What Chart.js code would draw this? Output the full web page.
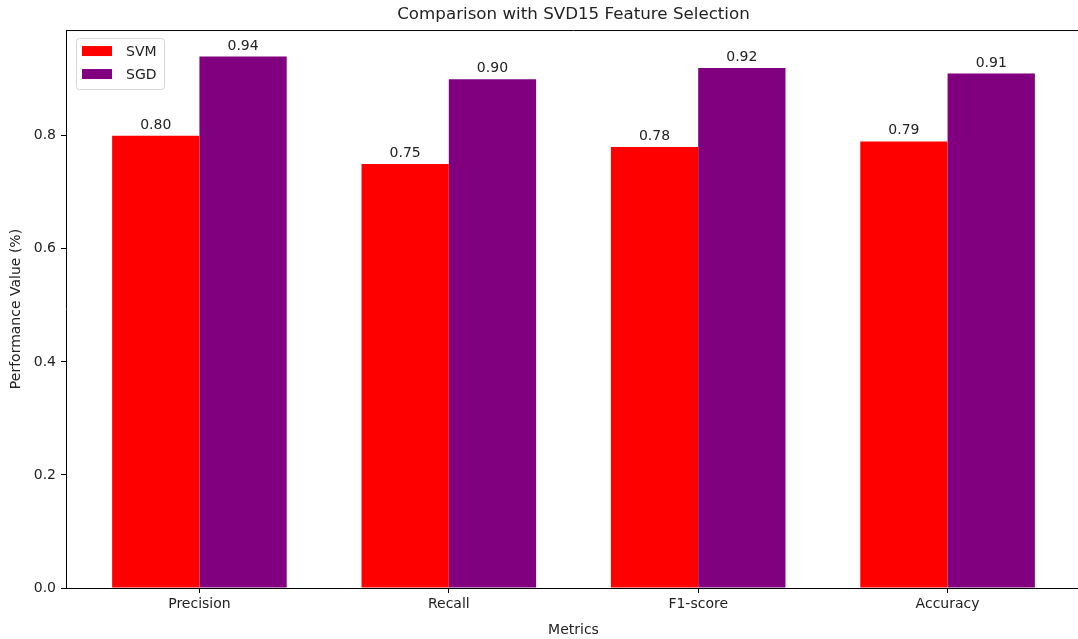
<!DOCTYPE html>
<html>
<head>
<meta charset="utf-8">
<script src="https://cdn.jsdelivr.net/npm/chart.js@4.4.0/dist/chart.umd.min.js"></script>
<style>
  html, body { margin: 0; padding: 0; background: #fff; overflow: hidden; width: 1078px; height: 639px; }
  #wrap { width: 1078px; height: 639px; overflow: hidden; position: relative; }
  #chart { position: absolute; left: 0; top: 0; }
</style>
</head>
<body>
<div id="wrap"><canvas id="chart" width="1100" height="639"></canvas></div>
<script>
const categories = ['Precision', 'Recall', 'F1-score', 'Accuracy']
const svmValues = [0.80, 0.75, 0.78, 0.79]
const sgdValues = [0.94, 0.90, 0.92, 0.91]
const yTicks = [0.0, 0.2, 0.4, 0.6, 0.8]
const seriesNames = ['SVM', 'SGD']
const seriesColors = ['#ff0000', '#800080']

const FONT = 'DejaVu Sans'
const TXT = '#222'

// turn arrays into {x,y} points so the x axis can be linear like matplotlib
const toPoints = vals => vals.map((v, i) => ({ x: i, y: v }))

// top spine (the right one falls outside the picture)
const spines = {
    id: 'spines',
    afterDraw(chart) {
        const { ctx, chartArea: a } = chart
        ctx.save()
        ctx.strokeStyle = '#000'
        ctx.lineWidth = 1
        ctx.beginPath()
        ctx.moveTo(a.left, a.top + 0.5)
        ctx.lineTo(a.right, a.top + 0.5)
        ctx.stroke()
        ctx.restore()
    }
}

// value labels above every bar
const barLabels = {
    id: 'barLabels',
    afterDatasetsDraw(chart) {
        const ctx = chart.ctx
        ctx.save()
        ctx.font = '14px "' + FONT + '"'
        ctx.fillStyle = TXT
        ctx.textAlign = 'center'
        ctx.textBaseline = 'alphabetic'
        chart.data.datasets.forEach((ds, di) => {
            chart.getDatasetMeta(di).data.forEach((bar, i) => {
                ctx.fillText(ds.data[i].y.toFixed(2), bar.x, bar.y - 7)
            })
        })
        ctx.restore()
    }
}

// matplotlib style legend inside the axes, upper left
const innerLegend = {
    id: 'innerLegend',
    afterDraw(chart) {
        const { ctx, chartArea: a } = chart
        const x = a.left + 10, y = a.top + 8, w = 88, h = 51
        ctx.save()
        ctx.beginPath()
        ctx.roundRect(x + 0.5, y + 0.5, w, h, 3)
        ctx.fillStyle = 'rgba(255,255,255,0.8)'
        ctx.fill()
        ctx.strokeStyle = '#d6d6d6'
        ctx.lineWidth = 1
        ctx.stroke()
        ctx.font = '14px "' + FONT + '"'
        ctx.textBaseline = 'middle'
        chart.data.datasets.forEach((ds, i) => {
            const rowY = y + 13 + i * 23
            ctx.fillStyle = ds.backgroundColor
            ctx.fillRect(x + 6, rowY - 5, 30, 10)
            ctx.fillStyle = TXT
            ctx.fillText(ds.label, x + 50, rowY + 1)
        })
        ctx.restore()
    }
}

const ctx = document.getElementById('chart').getContext('2d')
const myChart = new Chart(ctx, {
    type: 'bar',
    data: {
        datasets: [
            { label: seriesNames[0], data: toPoints(svmValues), backgroundColor: seriesColors[0] },
            { label: seriesNames[1], data: toPoints(sgdValues), backgroundColor: seriesColors[1] }
        ]
    },
    options: {
        responsive: false,
        animation: false,
        categoryPercentage: 0.7,
        barPercentage: 1.0,
        layout: { padding: { left: 0, right: 19, top: 0, bottom: 0 } },
        plugins: {
            legend: { display: false },
            tooltip: { enabled: false },
            title: {
                display: true,
                fullSize: false,
                text: 'Comparison with SVD15 Feature Selection',
                color: TXT,
                font: { family: FONT, size: 16.7, weight: 'normal' },
                padding: { top: 5, bottom: 5 }
            }
        },
        scales: {
            x: {
                type: 'linear',
                offset: false,
                min: -0.535,
                max: 3.535,
                afterBuildTicks: scale => { scale.ticks = categories.map((c, i) => ({ value: i })) },
                afterFit: scale => { scale.height = 51 },
                grid: { offset: false, drawOnChartArea: false, drawTicks: true, tickLength: 5, color: '#000' },
                border: { color: '#000' },
                ticks: {
                    padding: 3,
                    color: TXT,
                    font: { family: FONT, size: 14 },
                    maxRotation: 0,
                    autoSkip: false,
                    callback: v => categories[v]
                },
                title: {
                    display: true,
                    text: 'Metrics',
                    color: TXT,
                    font: { family: FONT, size: 14 },
                    padding: { top: 4, bottom: 0 }
                }
            },
            y: {
                min: 0,
                max: 0.987,
                afterBuildTicks: scale => { scale.ticks = yTicks.map(v => ({ value: v })) },
                afterFit: scale => { scale.width = 66 },
                grid: { drawOnChartArea: false, drawTicks: true, tickLength: 5, color: '#000' },
                border: { color: '#000' },
                ticks: {
                    padding: 5,
                    color: TXT,
                    font: { family: FONT, size: 14 },
                    callback: v => Number(v).toFixed(1)
                },
                title: {
                    display: true,
                    text: 'Performance Value (%)',
                    color: TXT,
                    font: { family: FONT, size: 14 },
                    padding: { top: 8, bottom: 0 }
                }
            }
        }
    },
    plugins: [spines, barLabels, innerLegend]
})
</script>
</body>
</html>
